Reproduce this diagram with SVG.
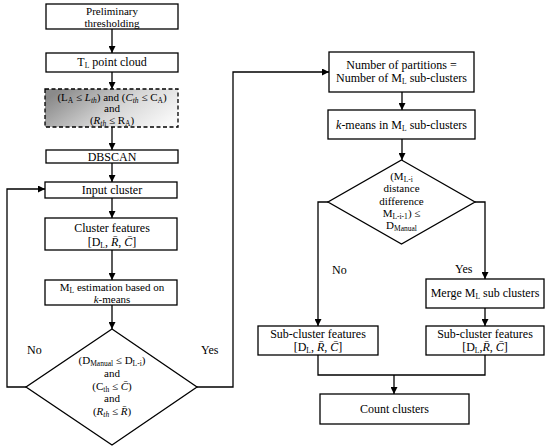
<svg xmlns="http://www.w3.org/2000/svg" width="550" height="447" viewBox="0 0 550 447">
<style>
.box{fill:#fff;stroke:#000;stroke-width:1.3}
.dash{stroke:#000;stroke-width:1.3;stroke-dasharray:4,2.5}
.ln{fill:none;stroke:#000;stroke-width:1.3}
text{font-family:"Liberation Serif","DejaVu Serif",serif;font-size:12px;fill:#000;text-anchor:middle}
.sm{font-size:11px}
.lbl{text-anchor:start}
.it{font-style:italic}
.s{font-size:7.5px}
</style>
<defs>
<marker id="ah" viewBox="0 0 10 10" refX="10" refY="5" markerWidth="7" markerHeight="7" markerUnits="userSpaceOnUse" orient="auto">
<path d="M0,0 L10,5 L0,10 z" fill="#000"/>
</marker>
<linearGradient id="g" x1="0" y1="0.3" x2="1" y2="0.7">
<stop offset="0" stop-color="#8a8a8a"/>
<stop offset="0.55" stop-color="#d6d6d6"/>
<stop offset="1" stop-color="#f8f8f8"/>
</linearGradient>
</defs>
<g id="connectors">
<path class="ln" d="M112,29 V53" marker-end="url(#ah)"/>
<path class="ln" d="M112,72 V89" marker-end="url(#ah)"/>
<path class="ln" d="M112,127 V150" marker-end="url(#ah)"/>
<path class="ln" d="M112,163 V182" marker-end="url(#ah)"/>
<path class="ln" d="M112,198 V218" marker-end="url(#ah)"/>
<path class="ln" d="M112,250 V280" marker-end="url(#ah)"/>
<path class="ln" d="M112,305 V329" marker-end="url(#ah)"/>
<path class="ln" d="M26,387 H7 V189 H45" marker-end="url(#ah)"/>
<path class="ln" d="M197,387 H233 V72 H329" marker-end="url(#ah)"/>
<path class="ln" d="M402,92 V110" marker-end="url(#ah)"/>
<path class="ln" d="M402,139 V160" marker-end="url(#ah)"/>
<path class="ln" d="M328,202 H318 V326" marker-end="url(#ah)"/>
<path class="ln" d="M475,202 H485 V279" marker-end="url(#ah)"/>
<path class="ln" d="M485,308 V326" marker-end="url(#ah)"/>
<path class="ln" d="M318,355 V375 H485 V355"/>
<path class="ln" d="M394,375 V394" marker-end="url(#ah)"/>
</g>
<g id="n1"><rect class="box" x="46" y="4" width="132" height="25"/>
<text class="sm" x="112" y="15">Preliminary</text><text class="sm" x="112" y="27">thresholding</text></g>
<g id="n2"><rect class="box" x="46" y="53" width="132" height="19"/>
<text x="112" y="66">T<tspan class="s" dy="1.5">L</tspan><tspan dy="-1.5"> point cloud</tspan></text></g>
<g id="n3"><rect class="dash" fill="url(#g)" x="45" y="89" width="133" height="38"/>
<text class="sm" x="112" y="101">(L<tspan class="s" dy="1.5">A</tspan><tspan dy="-1.5"> ≤ </tspan><tspan class="it">L</tspan><tspan class="s it" dy="1.5">th</tspan><tspan dy="-1.5">)  and  (</tspan><tspan class="it">C</tspan><tspan class="s it" dy="1.5">th</tspan><tspan dy="-1.5"> ≤ C</tspan><tspan class="s" dy="1.5">A</tspan><tspan dy="-1.5">)</tspan></text>
<text class="sm" x="112" y="112">and</text>
<text class="sm" x="112" y="124">(<tspan class="it">R</tspan><tspan class="s it" dy="1.5">th</tspan><tspan dy="-1.5"> ≤ R</tspan><tspan class="s" dy="1.5">A</tspan><tspan dy="-1.5">)</tspan></text></g>
<g id="n4"><rect class="box" x="46" y="150" width="132" height="13"/>
<text x="112" y="161">DBSCAN</text></g>
<g id="n5"><rect class="box" x="45" y="182" width="132" height="16"/>
<text x="112" y="194">Input cluster</text></g>
<g id="n6"><rect class="box" x="45" y="218" width="132" height="32"/>
<text x="112" y="232">Cluster features</text>
<text x="112" y="246">[D<tspan class="s" dy="1.5">L</tspan><tspan dy="-1.5">, </tspan><tspan class="it">R̄</tspan>, <tspan class="it">C̄</tspan>]</text></g>
<g id="n7"><rect class="box" x="45" y="280" width="132" height="25"/>
<text class="sm" x="112" y="291">M<tspan class="s" dy="1.5">L</tspan><tspan dy="-1.5"> estimation based on</tspan></text>
<text class="sm" x="112" y="303"><tspan class="it">k</tspan>-means</text></g>
<g id="n8"><path class="box" d="M112,329 L197,387 L112,445 L26,387 Z"/>
<text class="sm" x="112" y="364">(D<tspan class="s" dy="1.5">Manual</tspan><tspan dy="-1.5"> ≤ D</tspan><tspan class="s" dy="1.5">L-i</tspan><tspan dy="-1.5">)</tspan></text>
<text class="sm" x="112" y="377">and</text>
<text class="sm" x="112" y="390">(C<tspan class="s" dy="1.5">th</tspan><tspan dy="-1.5"> ≤ </tspan><tspan class="it">C̄</tspan>)</text>
<text class="sm" x="112" y="402">and</text>
<text class="sm" x="112" y="415">(<tspan class="it">R</tspan><tspan class="s it" dy="1.5">th</tspan><tspan dy="-1.5"> ≤ </tspan><tspan class="it">R̄</tspan>)</text></g>
<text class="lbl" x="27" y="354">No</text>
<text class="lbl" x="201" y="354">Yes</text>
<g id="n9"><rect class="box" x="329" y="52" width="145" height="40"/>
<text x="401.5" y="69">Number of partitions =</text>
<text x="401.5" y="82">Number of M<tspan class="s" dy="1.5">L</tspan><tspan dy="-1.5"> sub-clusters</tspan></text></g>
<g id="n10"><rect class="box" x="328" y="110" width="147" height="29"/>
<text x="401.5" y="129"><tspan class="it">k</tspan>-means in M<tspan class="s" dy="1.5">L</tspan><tspan dy="-1.5"> sub-clusters</tspan></text></g>
<g id="n11"><path class="box" d="M401.5,160 L475,202 L401.5,244 L328,202 Z"/>
<text class="sm" x="401.5" y="180">(M<tspan class="s" dy="1.5">L-i</tspan></text>
<text class="sm" x="401.5" y="192">distance</text>
<text class="sm" x="401.5" y="205">difference</text>
<text class="sm" x="401.5" y="217">M<tspan class="s" dy="1.5">L-i-1</tspan><tspan dy="-1.5">) ≤</tspan></text>
<text class="sm" x="401.5" y="229">D<tspan class="s" dy="1.5">Manual</tspan></text></g>
<text class="lbl" x="332" y="274">No</text>
<text class="lbl" x="455" y="273">Yes</text>
<g id="n12"><rect class="box" x="426" y="279" width="118" height="29"/>
<text x="485" y="297">Merge M<tspan class="s" dy="1.5">L</tspan><tspan dy="-1.5"> sub clusters</tspan></text></g>
<g id="n13"><rect class="box" x="258" y="326" width="120" height="29"/>
<text x="318" y="338">Sub-cluster features</text>
<text x="318" y="351">[D<tspan class="s" dy="1.5">L</tspan><tspan dy="-1.5">, </tspan><tspan class="it">R̄</tspan>, <tspan class="it">C̄</tspan>]</text></g>
<g id="n14"><rect class="box" x="426" y="326" width="118" height="29"/>
<text x="485" y="338">Sub-cluster features</text>
<text x="485" y="351">[D<tspan class="s" dy="1.5">L</tspan><tspan dy="-1.5">,</tspan><tspan class="it">R̄</tspan>, <tspan class="it">C̄</tspan>]</text></g>
<g id="n15"><rect class="box" x="320" y="394" width="149" height="30"/>
<text x="394.5" y="413">Count clusters</text></g>
</svg>
